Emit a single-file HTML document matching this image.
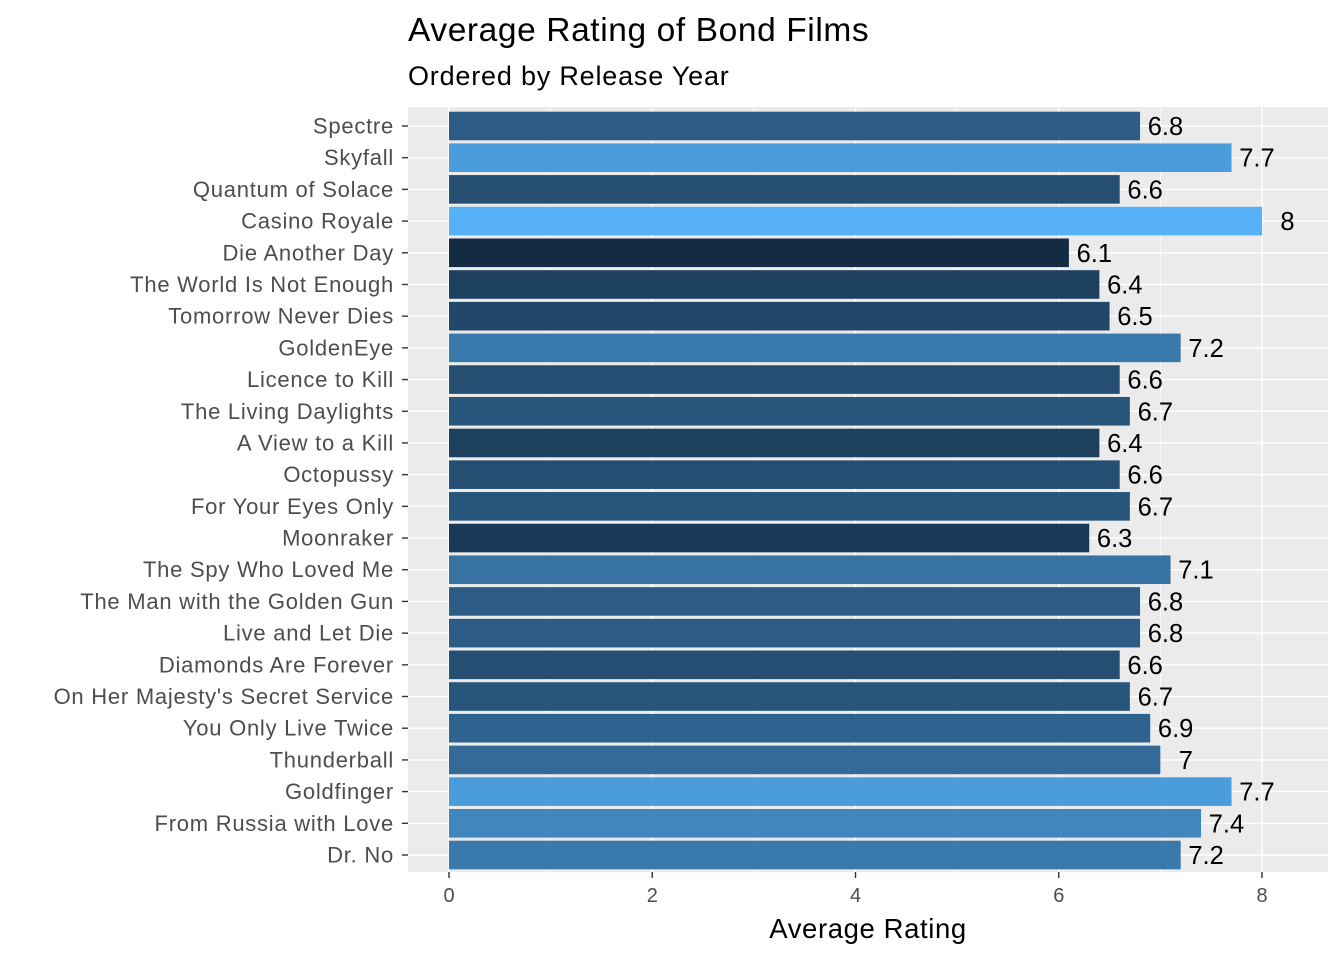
<!DOCTYPE html>
<html><head><meta charset="utf-8"><style>
body{margin:0;background:#fff;font-family:"Liberation Sans",sans-serif}
</style></head><body>
<svg width="1344" height="960" xmlns="http://www.w3.org/2000/svg" font-family="Liberation Sans, sans-serif">
<text x="408" y="41" font-size="33.5" letter-spacing="0.6" fill="#000">Average Rating of Bond Films</text>
<text x="408" y="85" font-size="27" letter-spacing="0.8" fill="#000">Ordered by Release Year</text>
<rect x="408" y="107" width="920" height="765" fill="#EBEBEB"/>
<g id="grid"></g><g id="bars"></g><g id="axes"></g>
<text x="868" y="938" font-size="27.5" letter-spacing="0.6" text-anchor="middle" fill="#000">Average Rating</text>
</svg>
<script>
const films=["Spectre","Skyfall","Quantum of Solace","Casino Royale","Die Another Day","The World Is Not Enough","Tomorrow Never Dies","GoldenEye","Licence to Kill","The Living Daylights","A View to a Kill","Octopussy","For Your Eyes Only","Moonraker","The Spy Who Loved Me","The Man with the Golden Gun","Live and Let Die","Diamonds Are Forever","On Her Majesty's Secret Service","You Only Live Twice","Thunderball","Goldfinger","From Russia with Love","Dr. No"];
const ratings=[6.8,7.7,6.6,8,6.1,6.4,6.5,7.2,6.6,6.7,6.4,6.6,6.7,6.3,7.1,6.8,6.8,6.6,6.7,6.9,7,7.7,7.4,7.2];
const xTicks=[0,2,4,6,8];
const NS="http://www.w3.org/2000/svg";
const x=v=>449+v*(1262-449)/8;
const y=i=>126+i*(855-126)/23;
const mn=Math.min(...ratings),mx=Math.max(...ratings);
const lo=[0x13,0x2B,0x43],hi=[0x56,0xB1,0xF7];
function col(v){const t=(v-mn)/(mx-mn);return "rgb("+lo.map((c,k)=>Math.round(c+(hi[k]-c)*t)).join(",")+")";}
function mk(tag,attrs,parent,text){const e=document.createElementNS(NS,tag);for(const k in attrs)e.setAttribute(k,attrs[k]);if(text!==undefined)e.textContent=text;document.getElementById(parent).appendChild(e);return e;}
for(let v=1;v<=7;v+=2){const e=mk("line",{x1:x(v),x2:x(v),y1:107,y2:872,stroke:"#fff","stroke-width":0.7},"grid");

}
xTicks.forEach(v=>{const e=mk("line",{x1:x(v),x2:x(v),y1:107,y2:872,stroke:"#fff","stroke-width":1.4},"grid");


const t=mk("line",{x1:x(v),x2:x(v),y1:872,y2:878,stroke:"#333","stroke-width":1.4},"axes");


const l=mk("text",{x:x(v),y:902,"font-size":20,"text-anchor":"middle",fill:"#4D4D4D"},"axes",String(v));

});
films.forEach((f,i)=>{const cy=y(i);
const g=mk("line",{x1:408,x2:1328,y1:cy,y2:cy,stroke:"#fff","stroke-width":1.4},"grid");


const b=mk("rect",{x:x(0),y:cy-14.3,width:x(ratings[i])-x(0),height:28.6,fill:col(ratings[i])},"bars");


const v=mk("text",{x:x(ratings[i]+0.25),y:cy+9,"font-size":25.5,"text-anchor":"middle",fill:"#000"},"bars",String(ratings[i]));


const t=mk("line",{x1:402,x2:408,y1:cy,y2:cy,stroke:"#333","stroke-width":1.4},"axes");


const l=mk("text",{x:394,y:cy+7.5,"font-size":22,"letter-spacing":0.75,"text-anchor":"end",fill:"#4D4D4D"},"axes",f);

});
</script>
</body></html>
